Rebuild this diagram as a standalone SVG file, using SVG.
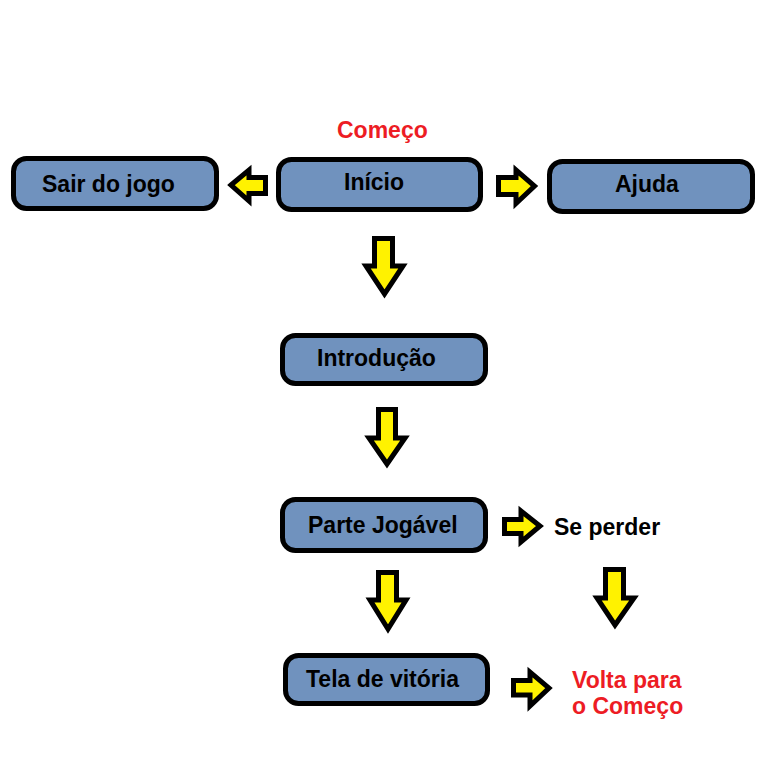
<svg xmlns="http://www.w3.org/2000/svg" width="768" height="768" viewBox="0 0 768 768">
<style>
.box{fill:#7092be;stroke:#000;stroke-width:5}
.arr{fill:#fff200;stroke:#000;stroke-width:5;stroke-linejoin:miter}
text{font-family:"Liberation Sans",Arial,sans-serif;font-weight:bold;font-size:23px;fill:#000}
.red{fill:#ed1c24}
</style>
<rect width="768" height="768" fill="#fff"/>
<g id="connectors">
<path class="arr" d="M231,185 L249,170 L249,177.5 L265.5,177.5 L265.5,193.5 L249,193.5 L249,201 Z"/>
<path class="arr" d="M498.5,177.5 L516,177.5 L516,170 L534.5,186 L516,203.5 L516,194.5 L498.5,194.5 Z"/>
<path class="arr" d="M374.5,238.5 L392.5,238.5 L392.5,266 L403,266 L384.5,294 L366,266 L374.5,266 Z"/>
<path class="arr" d="M378.5,409.5 L395.5,409.5 L395.5,438 L405,438 L387,464 L369,438 L378.5,438 Z"/>
<path class="arr" d="M504.5,519.5 L521,519.5 L521,511 L540,526 L521,542 L521,533.5 L504.5,533.5 Z"/>
<path class="arr" d="M378.5,572.5 L396.5,572.5 L396.5,600 L406,600 L388,629 L370,600 L378.5,600 Z"/>
<path class="arr" d="M605.5,569.5 L623.5,569.5 L623.5,598 L634,598 L615,625 L597,598 L605.5,598 Z"/>
<path class="arr" d="M513.5,680.5 L530,680.5 L530,672 L549,688 L530,706 L530,695 L513.5,695 Z"/>
</g>
<g id="comeco"><text class="red" x="337" y="138">Começo</text></g>
<g id="sair"><rect class="box" x="13.5" y="158.5" width="203" height="50" rx="13"/><text x="42" y="192">Sair do jogo</text></g>
<g id="inicio"><rect class="box" x="278.5" y="159.5" width="202" height="50" rx="13"/><text x="344" y="190">Início</text></g>
<g id="ajuda"><rect class="box" x="549.5" y="161.5" width="203" height="50" rx="13"/><text x="615" y="192">Ajuda</text></g>
<g id="introducao"><rect class="box" x="282.5" y="335.5" width="203" height="48" rx="13"/><text x="317" y="366">Introdução</text></g>
<g id="parte"><rect class="box" x="282.5" y="499.5" width="203" height="51" rx="13"/><text x="308" y="533">Parte Jogável</text></g>
<g id="seperder"><text x="554" y="535">Se perder</text></g>
<g id="tela"><rect class="box" x="285.5" y="655.5" width="202" height="48" rx="13"/><text x="306" y="687">Tela de vitória</text></g>
<g id="volta"><text class="red" x="572" y="688">Volta para</text><text class="red" x="572" y="714">o Começo</text></g>
</svg>
